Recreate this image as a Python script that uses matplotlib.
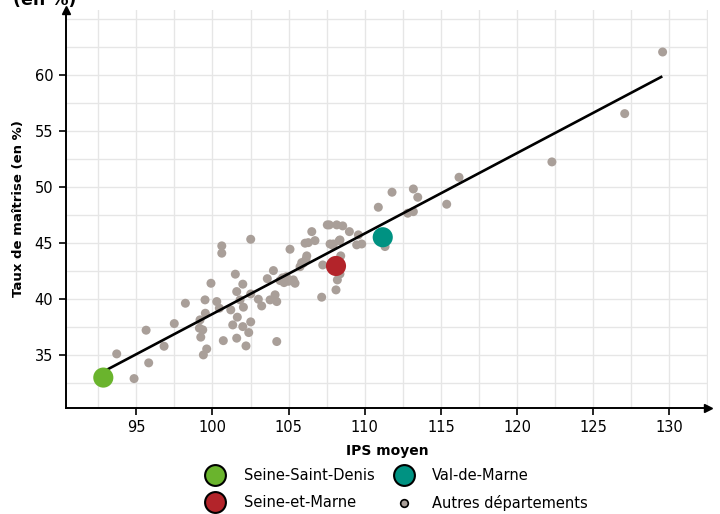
import matplotlib
matplotlib.use("Agg")
import matplotlib.pyplot as plt
from matplotlib.lines import Line2D
import numpy as np

plt.rcParams['font.family'] = ['DejaVu Sans']

# Autres départements (IPS moyen, taux de maîtrise)
autres_ips = [93.71, 94.85, 95.81, 95.64, 96.82, 97.49, 98.22, 99.18, 99.14, 99.36,
              99.23, 99.51, 99.53, 99.62, 99.40, 99.90, 100.28, 100.45, 100.61, 100.61,
              100.71, 101.20, 101.33, 101.50, 101.59, 101.63, 101.59, 101.81, 101.99, 102.03,
              101.99, 102.20, 102.38, 102.51, 102.51, 102.51, 103.01, 103.23, 103.60, 104.00,
              103.78, 104.11, 104.22, 104.22, 104.44, 104.70, 105.09, 105.31, 105.42, 105.86,
              106.19, 106.08, 106.29, 106.52, 106.73, 107.17, 107.24, 107.67, 107.94, 108.16,
              108.55, 108.33, 108.42, 108.20, 108.11, 108.99, 109.58, 109.47, 109.80, 111.33,
              116.19, 115.38, 113.19, 113.48, 113.19, 112.82, 111.79, 110.89, 129.56, 127.07,
              122.29, 106.14, 105.96, 105.75, 107.72, 107.90, 108.37, 107.54, 108.37, 104.60,
              105.00, 104.85]
autres_taux = [35.13, 32.93, 34.33, 37.24, 35.81, 37.83, 39.64, 38.16, 37.42, 37.27,
               36.62, 39.94, 38.75, 35.57, 35.04, 41.42, 39.79, 39.20, 44.75, 44.10,
               36.31, 39.05, 37.71, 42.23, 40.68, 38.40, 36.53, 39.94, 41.34, 39.29,
               37.56, 35.84, 37.03, 37.98, 45.34, 40.47, 40.00, 39.40, 41.83, 42.55,
               39.94, 40.39, 39.79, 36.23, 41.66, 41.48, 44.45, 41.72, 41.42, 43.26,
               43.86, 44.99, 45.04, 46.02, 45.22, 40.18, 43.05, 46.62, 44.92, 46.62,
               46.53, 45.22, 43.86, 41.72, 40.83, 46.02, 45.73, 44.84, 44.92, 44.69,
               50.86, 48.46, 49.82, 49.08, 47.80, 47.66, 49.53, 48.19, 62.02, 56.53,
               52.23, 43.56, 43.21, 42.90, 44.92, 44.80, 45.28, 46.62, 42.25, 41.90,
               41.60, 42.00]

# Départements mis en avant
highlight_names = ["Seine-Saint-Denis", "Seine-et-Marne", "Val-de-Marne"]
highlight_ips = [92.83, 108.11, 111.18]
highlight_taux = [33.02, 42.96, 45.52]
highlight_colors = ["#6ab42d", "#b3242a", "#009282"]

# Droite de tendance
fit_ips = [92.83, 129.54]
fit_taux = [33.55, 59.85]

x_ticks = [95, 100, 105, 110, 115, 120, 125, 130]
y_ticks = [35, 40, 45, 50, 55, 60]

gray = "#a99f99"

fig = plt.figure(figsize=(7.2, 5.14), dpi=100)
ax = fig.add_axes([65.7/720, 1 - 408/514, (708 - 65.7)/720, (408 - 10)/514])

ax.set_xlim(90.36, 132.54)
ax.set_ylim(30.31, 65.76)

# grid every 2.5
ax.set_xticks(np.arange(92.5, 132.6, 2.5), minor=True)
ax.set_yticks(np.arange(32.5, 65.1, 2.5), minor=True)
ax.set_xticks(x_ticks)
ax.set_yticks(y_ticks)
ax.set_xticklabels([str(v) for v in x_ticks])
ax.set_yticklabels([str(v) for v in y_ticks])
ax.grid(which='both', color='#e6e6e6', linewidth=1.0, zorder=0)
ax.set_axisbelow(True)
ax.tick_params(which='minor', length=0)
ax.tick_params(which='major', length=5, width=1.2, color='black', labelsize=10.5, pad=4)

for s in ['top', 'right']:
    ax.spines[s].set_visible(False)
for s in ['left', 'bottom']:
    ax.spines[s].set_linewidth(1.4)
    ax.spines[s].set_color('black')

# arrows
ax.plot(1, 0, marker='>', color='black', markersize=6, transform=ax.transAxes, clip_on=False)
ax.plot(0, 1, marker='^', color='black', markersize=6, transform=ax.transAxes, clip_on=False)

ax.scatter(autres_ips, autres_taux, s=42, color=gray, edgecolors='none', zorder=2)
ax.plot(fit_ips, fit_taux, color='black', linewidth=1.9, zorder=3, solid_capstyle='butt')
ax.scatter(highlight_ips, highlight_taux, s=210, c=highlight_colors, edgecolors='none', zorder=4)

ax.set_xlabel("IPS moyen", fontsize=10, fontweight='bold', labelpad=6)
ax.set_ylabel("Taux de maîtrise (en %)", fontsize=9.5, fontweight='bold', labelpad=7)

fig.text(13/720, 1 - 5/514, "(en %)", fontsize=12.5, fontweight='bold', va='baseline', ha='left')

handles = [
    Line2D([], [], linestyle='none', marker='o', markersize=15, markerfacecolor=highlight_colors[0],
           markeredgecolor='black', markeredgewidth=1.5, label=highlight_names[0]),
    Line2D([], [], linestyle='none', marker='o', markersize=15, markerfacecolor=highlight_colors[1],
           markeredgecolor='black', markeredgewidth=1.5, label=highlight_names[1]),
    Line2D([], [], linestyle='none', marker='o', markersize=15, markerfacecolor=highlight_colors[2],
           markeredgecolor='black', markeredgewidth=1.5, label=highlight_names[2]),
    Line2D([], [], linestyle='none', marker='o', markersize=5.5, markerfacecolor=gray,
           markeredgecolor='black', markeredgewidth=1.2, label="Autres départements"),
]
fig.legend(handles=handles, ncol=2, loc='center', bbox_to_anchor=(396/720, 1 - 489.5/514),
           frameon=False, fontsize=10.5, handletextpad=1.2, columnspacing=1.25,
           labelspacing=0.8, handlelength=1.5)

fig.savefig("out.png", dpi=100)
